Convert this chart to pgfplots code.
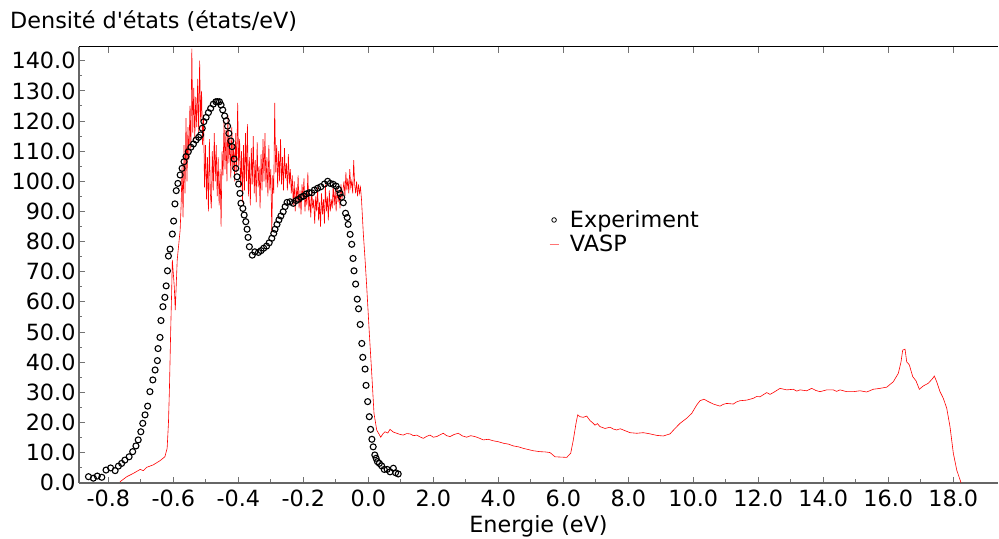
\documentclass[border=0pt]{standalone}
\usepackage{pgfplots}
\pgfplotsset{compat=1.18}
\usepackage{fontspec}
\setmainfont{DejaVu Sans}
\newcommand{\fs}{\fontsize{22.4}{26}\selectfont}
\begin{document}
\begin{tikzpicture}
\begin{axis}[
  at={(0,0)}, anchor=south west,
  scale only axis, width=919bp, height=436bp,
  xmin=-8.902, xmax=19.375, ymin=0, ymax=144.66,
  axis x line*=bottom, axis y line*=left,
  axis line style={draw=black!60, line width=1.6bp, -},
  tick align=inside,
  major tick length=6bp, minor tick length=3.5bp,
  every tick/.style={black!55, line width=1bp},
  xtick={-8,-6,-4,-2,0,2,4,6,8,10,12,14,16,18},
  xticklabels={-0.8,-0.6,-0.4,-0.2,0.0,2.0,4.0,6.0,8.0,10.0,12.0,14.0,16.0,18.0},
  minor x tick num=1,
  ytick={0,10,...,140}, minor y tick num=1,
  /pgf/number format/assume math mode=true,
  yticklabel style={/pgf/number format/.cd, fixed, fixed zerofill, precision=1},
  every tick label/.append style={font=\fs},
  xticklabel style={yshift=-4bp},
  xlabel={Energie (eV)},
  xlabel style={font=\fs, at={(axis description cs:0.5,0)}, anchor=base, yshift=-49.3bp},
  legend style={draw=none, fill=none, at={(rel axis cs:0.5114,0.575)}, anchor=west,
    inner sep=0pt, font=\fs, row sep=2bp, column sep=9bp},
  legend cell align=left,
]
\addplot[only marks, mark=o, mark size=3bp, black, line width=1.1bp,
  legend image code/.code={\draw[black, line width=0.8bp, fill=none] (4.5bp,0bp) circle (2.3bp);}]
coordinates {
(-8.61,2.0) (-8.46,1.5) (-8.34,2.2) (-8.20,1.8) (-8.07,4.2) (-7.93,4.9) (-7.79,4.0)
(-7.69,5.5) (-7.59,6.4) (-7.49,7.5) (-7.36,8.6) (-7.25,10.3) (-7.15,12.2) (-7.08,14.2)
(-7.00,16.9) (-6.94,19.7) (-6.87,22.5) (-6.79,25.4) (-6.72,30.2) (-6.63,34.1) (-6.56,37.4)
(-6.49,40.5) (-6.47,44.5) (-6.41,48.2) (-6.38,53.8) (-6.32,58.4) (-6.26,61.5) (-6.22,65.3)
(-6.18,70.3) (-6.15,75.2) (-6.10,77.5) (-6.03,82.5) (-5.99,86.8) (-5.95,92.5) (-5.91,96.9)
(-5.86,99.3) (-5.79,102.1) (-5.73,104.3) (-5.67,106.5) (-5.61,108.2) (-5.54,109.8)
(-5.46,111.3) (-5.38,112.4) (-5.30,113.7) (-5.22,114.6) (-5.16,115.4) (-5.11,117.6)
(-5.06,119.8) (-4.99,121.2) (-4.92,122.8) (-4.85,124.2) (-4.77,125.6) (-4.69,126.4)
(-4.64,126.4) (-4.58,126.4) (-4.53,125.3) (-4.48,123.7) (-4.42,121.7) (-4.37,120.1)
(-4.33,118.3) (-4.29,115.9) (-4.23,113.4) (-4.19,111.5) (-4.13,107.4) (-4.08,104.3)
(-4.04,101.5) (-3.99,99.1) (-3.95,96.0) (-3.92,92.7) (-3.86,91.0) (-3.82,88.8) (-3.77,86.6)
(-3.73,84.1) (-3.70,81.4) (-3.66,78.3) (-3.57,75.5) (-3.49,76.6) (-3.38,76.4) (-3.30,77.0)
(-3.22,77.8) (-3.13,78.5) (-3.05,79.6) (-2.97,81.1) (-2.91,82.7) (-2.87,84.1) (-2.81,85.7)
(-2.75,87.2) (-2.69,88.5) (-2.62,89.9) (-2.56,91.6) (-2.50,93.0) (-2.41,93.2) (-2.31,92.7)
(-2.22,93.6) (-2.15,94.0) (-2.07,94.7) (-1.99,95.1) (-1.91,95.8) (-1.82,96.2) (-1.74,96.2)
(-1.66,97.1) (-1.56,97.7) (-1.46,98.2) (-1.35,99.1) (-1.25,100.0) (-1.17,99.3) (-1.08,99.0)
(-0.99,98.4) (-0.92,97.3) (-0.87,96.0) (-0.82,94.7) (-0.77,92.9) (-0.70,89.4) (-0.65,88.0)
(-0.62,85.7) (-0.56,82.4) (-0.51,79.1) (-0.47,74.4) (-0.44,70.3) (-0.39,65.9) (-0.34,60.9)
(-0.30,57.7) (-0.25,52.5) (-0.20,46.2) (-0.17,41.6) (-0.10,37.7) (-0.07,32.3) (-0.02,26.9)
(0.03,21.9) (0.07,17.7) (0.11,14.4) (0.15,11.9) (0.20,9.2) (0.24,8.1) (0.28,7.0) (0.34,6.4)
(0.41,5.6) (0.49,4.4) (0.58,4.4) (0.67,3.6) (0.77,4.8) (0.84,3.3) (0.92,2.9)
};
\addlegendentry{Experiment}
\addplot[red, line width=0.6bp, mark=none,
  legend image code/.code={\draw[red!55, line width=0.8bp] (0bp,0bp) -- (9bp,0bp);}]
coordinates {
(-7.64,0.3) (-7.43,2.0) (-7.23,3.1) (-7.02,4.4) (-6.92,4.0) (-6.82,5.1) (-6.62,5.9)
(-6.41,7.3) (-6.26,8.6) (-6.19,11.4) (-6.15,19.7) (-6.12,30.8) (-6.08,50.7) (-6.05,63.9)
(-6.03,73.9) (-5.97,65.0) (-5.94,57.3) (-5.88,73.9) (-5.79,83.8)
(-5.76,92) (-5.73,105) (-5.70,88) (-5.67,112) (-5.64,96) (-5.61,121) (-5.58,100) (-5.55,118)
(-5.52,107) (-5.49,125) (-5.46,110) (-5.43,144) (-5.40,116) (-5.37,131) (-5.34,114) (-5.31,128)
(-5.28,118) (-5.25,134) (-5.22,116) (-5.19,140) (-5.16,120) (-5.13,130) (-5.10,112) (-5.07,122)
(-5.04,98) (-5.01,112) (-4.98,94) (-4.95,108) (-4.92,90) (-4.89,114) (-4.86,96) (-4.83,91)
(-4.80,110) (-4.77,97) (-4.74,116) (-4.71,100) (-4.68,112) (-4.65,95) (-4.62,108) (-4.59,92)
(-4.56,104) (-4.53,85) (-4.50,110) (-4.47,102) (-4.44,120) (-4.41,104) (-4.38,117) (-4.35,100)
(-4.32,122) (-4.29,106) (-4.26,115) (-4.23,101) (-4.20,118) (-4.17,104) (-4.14,112) (-4.11,100)
(-4.08,116) (-4.05,103) (-4.02,126) (-3.99,105) (-3.96,114) (-3.93,98) (-3.90,110) (-3.87,93)
(-3.84,112) (-3.81,97) (-3.78,116) (-3.75,100) (-3.72,119) (-3.69,95) (-3.66,108) (-3.63,92)
(-3.60,111) (-3.57,99) (-3.54,115) (-3.51,96) (-3.48,107) (-3.45,93) (-3.42,113) (-3.39,98)
(-3.36,105) (-3.33,91) (-3.30,109) (-3.27,97) (-3.24,114) (-3.21,100) (-3.18,116) (-3.15,98)
(-3.12,108) (-3.09,95) (-3.06,112) (-3.03,97) (-3.00,104) (-2.97,83) (-2.94,102) (-2.91,96)
(-2.88,126) (-2.85,103) (-2.82,112) (-2.79,98) (-2.76,110) (-2.73,100) (-2.70,114) (-2.67,99)
(-2.64,108) (-2.61,97) (-2.58,111) (-2.55,101) (-2.52,106) (-2.49,97) (-2.46,109) (-2.43,99)
(-2.40,104) (-2.37,96) (-2.34,102) (-2.31,92) (-2.28,100) (-2.25,90) (-2.22,98) (-2.19,93)
(-2.16,102) (-2.13,91) (-2.10,97) (-2.07,89) (-2.04,99) (-2.01,94) (-1.98,101) (-1.95,90)
(-1.92,96) (-1.89,92) (-1.86,103) (-1.83,90) (-1.80,95) (-1.77,88) (-1.74,97) (-1.71,91)
(-1.68,94) (-1.65,86) (-1.62,95) (-1.59,90) (-1.56,98) (-1.53,87) (-1.50,93) (-1.47,85)
(-1.44,96) (-1.41,89) (-1.38,94) (-1.35,86) (-1.32,99) (-1.29,90) (-1.26,95) (-1.23,87)
(-1.20,97) (-1.17,90) (-1.14,94) (-1.11,91) (-1.08,99) (-1.05,92) (-1.02,97) (-0.99,90)
(-0.96,98) (-0.93,93) (-0.90,96) (-0.87,91) (-0.84,99) (-0.81,94) (-0.78,97) (-0.75,100)
(-0.72,95) (-0.69,103) (-0.66,97) (-0.63,101) (-0.60,96) (-0.57,104) (-0.54,98) (-0.51,100)
(-0.48,96) (-0.45,107) (-0.42,99) (-0.39,96) (-0.36,100) (-0.33,95) (-0.30,99) (-0.27,96)
(-0.24,98) (-0.21,94)
(-0.154,82.7) (-0.10,74) (-0.049,65) (0.031,49.6) (0.105,36.3) (0.175,23) (0.258,17.5)
(0.382,15.1) (0.45,16.2) (0.514,16.9) (0.60,16.5) (0.668,17.7) (0.77,16.8) (0.874,16.4) (0.98,16.0)
(1.077,15.8) (1.18,16.3) (1.283,16.2) (1.39,15.6) (1.489,15.8) (1.59,15.2) (1.692,14.7) (1.80,15.4)
(1.898,15.8) (2.00,15.1) (2.105,15.3) (2.21,15.9) (2.308,16.4) (2.41,15.6) (2.514,15.3) (2.64,16.0)
(2.769,16.4) (2.90,15.5) (3.028,15.1) (3.15,15.6) (3.283,15.3) (3.41,14.8) (3.538,14.2)
(3.69,14.4) (3.846,13.9) (4.00,13.6) (4.154,13.1) (4.31,12.8) (4.462,12.2) (4.62,11.9)
(4.769,11.4) (4.92,11.0) (5.077,10.6) (5.283,10.3) (5.45,10.2) (5.591,10.0) (5.745,8.6)
(5.92,8.5) (6.105,8.4) (6.228,9.8) (6.308,14.2) (6.391,19.7) (6.443,22.5) (6.514,21.9)
(6.615,21.7) (6.720,22.1) (6.822,20.6) (6.90,19.9) (6.975,19.1) (7.05,19.6) (7.129,18.6)
(7.283,18.0) (7.437,18.4) (7.54,17.8) (7.643,17.5) (7.75,17.9) (7.846,17.5) (8.052,16.6)
(8.258,16.4) (8.462,16.6) (8.668,16.2) (8.874,15.7) (9.077,15.5) (9.283,16.2) (9.437,18.0)
(9.591,19.7) (9.797,21.4) (9.951,23.0) (10.105,25.8) (10.206,27.2) (10.329,27.7) (10.462,26.9)
(10.615,26.1) (10.822,25.4) (10.92,26.0) (11.028,26.3) (11.231,26.1) (11.33,26.8) (11.437,27.2)
(11.643,27.4) (11.846,28.0) (11.95,28.6) (12.052,28.5) (12.258,29.9) (12.36,29.3) (12.462,29.9)
(12.668,31.3) (12.874,30.8) (13.077,31.0) (13.18,30.4) (13.283,30.8) (13.489,30.5) (13.643,31.3)
(13.77,30.6) (13.898,30.2) (14.105,30.8) (14.308,30.8) (14.41,30.3) (14.514,30.8) (14.720,30.2)
(14.923,30.2) (15.129,30.5) (15.335,30.1) (15.538,31.0) (15.745,31.3) (15.951,31.7)
(16.154,33.5) (16.308,36.3) (16.391,40.1) (16.443,44.0) (16.514,44.3) (16.566,40.1)
(16.646,39.1) (16.751,35.2) (16.852,33.8) (16.954,31.0) (17.077,32.1) (17.231,33.0)
(17.366,34.6) (17.415,35.4) (17.489,33.5) (17.591,30.2) (17.692,28.0) (17.797,24.7)
(17.898,18.6) (18.0,9.8) (18.105,4.2) (18.237,0)
};
\addlegendentry{VASP}
\coordinate (tl) at (rel axis cs:0,1);
\coordinate (tr) at (rel axis cs:1,1);
\pgfplotsinvokeforeach{-8,-6,-4,-2,0,2,4,6,8,10,12,14,16,18}{
  \coordinate (tt#1) at (axis cs:#1,144.66);
}
\end{axis}
\draw[black, line width=0.8bp] (tl) -- (tr);
\foreach \t in {-8,-6,-4,-2,0,2,4,6,8,10,12,14,16,18}{
  \draw[black!55, line width=1bp] (tt\t) -- ([yshift=-6bp]tt\t);
}
\node[anchor=base west, inner sep=0pt, font=\fs]
  at ([xshift=-69bp, yshift=17.7bp]tl) {Densité d\textquotesingle états (états/eV)};
\pgfresetboundingbox
\useasboundingbox (-79bp,-56.3bp) rectangle (920bp,482.7bp);
\end{tikzpicture}
\end{document}
